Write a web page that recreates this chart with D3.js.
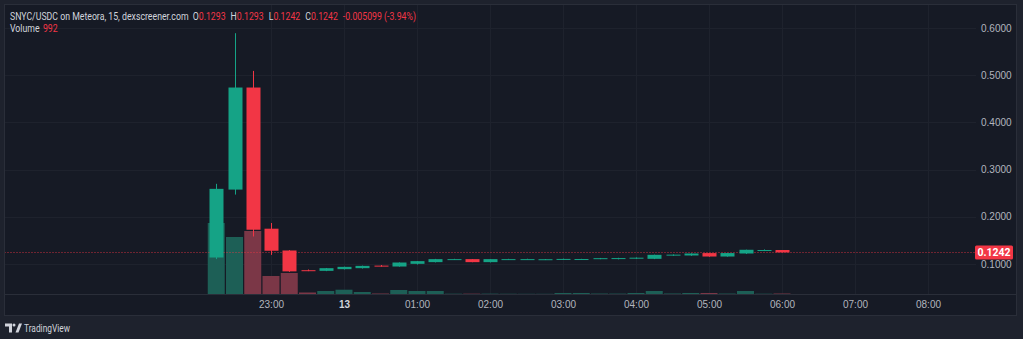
<!DOCTYPE html>
<html>
<head>
<meta charset="utf-8">
<script src="https://cdn.jsdelivr.net/npm/d3@7"></script>
<style>
  html, body { margin: 0; padding: 0; background: #1e222d; }
  svg { display: block; font-family: Roboto, "Noto Sans", sans-serif; }
  .axis text { font-size: 10px; fill: #b2b5be; }
  .axis path, .axis line { display: none; }
  .grid line { stroke: #1e222d; stroke-width: 1; shape-rendering: crispEdges; }
</style>
</head>
<body>
<svg id="chart"></svg>
<script>
// 15 minute bars, SNYC/USDC
const times = [
  "2024-06-12T22:15", "2024-06-12T22:30", "2024-06-12T22:45", "2024-06-12T23:00",
  "2024-06-12T23:15", "2024-06-12T23:30", "2024-06-12T23:45", "2024-06-13T00:00",
  "2024-06-13T00:15", "2024-06-13T00:30", "2024-06-13T00:45", "2024-06-13T01:00",
  "2024-06-13T01:15", "2024-06-13T01:30", "2024-06-13T01:45", "2024-06-13T02:00",
  "2024-06-13T02:15", "2024-06-13T02:30", "2024-06-13T02:45", "2024-06-13T03:00",
  "2024-06-13T03:15", "2024-06-13T03:30", "2024-06-13T03:45", "2024-06-13T04:00",
  "2024-06-13T04:15", "2024-06-13T04:30", "2024-06-13T04:45", "2024-06-13T05:00",
  "2024-06-13T05:15", "2024-06-13T05:30", "2024-06-13T05:45", "2024-06-13T06:00"
];
const opens  = [0.1134, 0.2574, 0.4738, 0.1745, 0.1283, 0.0865, 0.0851, 0.0887,
                0.0908, 0.0962, 0.0943, 0.1000, 0.1036, 0.1092, 0.1100, 0.1036,
                0.1095, 0.1096, 0.1094, 0.1098, 0.1097, 0.1108, 0.1110, 0.1118,
                0.1106, 0.1182, 0.1177, 0.1228, 0.1155, 0.1219, 0.1285, 0.1293];
const highs  = [0.2696, 0.5890, 0.5090, 0.1866, 0.1290, 0.0880, 0.0912, 0.0940,
                0.0962, 0.0975, 0.1030, 0.1060, 0.1105, 0.1106, 0.1102, 0.1102,
                0.1106, 0.1108, 0.1102, 0.1110, 0.1106, 0.1125, 0.1128, 0.1135,
                0.1195, 0.1200, 0.1222, 0.1230, 0.1230, 0.1300, 0.1305, 0.1293];
const lows   = [0.1100, 0.2468, 0.1580, 0.1190, 0.0830, 0.0845, 0.0845, 0.0880,
                0.0900, 0.0940, 0.0940, 0.0985, 0.1030, 0.1085, 0.1034, 0.1030,
                0.1085, 0.1090, 0.1080, 0.1088, 0.1085, 0.1098, 0.1095, 0.1105,
                0.1100, 0.1170, 0.1170, 0.1150, 0.1152, 0.1210, 0.1270, 0.1242];
const closes = [0.2590, 0.4738, 0.1723, 0.1277, 0.0840, 0.0850, 0.0908, 0.0936,
                0.0957, 0.0950, 0.1028, 0.1057, 0.1100, 0.1100, 0.1036, 0.1100,
                0.1100, 0.1100, 0.1098, 0.1104, 0.1102, 0.1120, 0.1122, 0.1130,
                0.1191, 0.1195, 0.1219, 0.1155, 0.1228, 0.1298, 0.129299, 0.1242];
const volumes = [142000, 114000, 126000, 36000, 42000, 3000, 6000, 8600,
                 4000, 1000, 8000, 6000, 6000, 600, 700, 700,
                 500, 400, 400, 2000, 2000, 900, 800, 2000,
                 6000, 1000, 2000, 2000, 900, 6000, 600, 992];
const priceTicks = [0.1, 0.2, 0.3, 0.4, 0.5, 0.6];
const lastPrice = 0.1242;

const W = 1023, H = 339;
const pane = {left: 4.5, top: 4.5, right: 1016.5, bottom: 315.5, axisX: 976, axisY: 294};
const upColor = '#15a386', downColor = '#f23645';
const upVol = '#1d5f56', downVol = '#7b3747';

const parse = d3.utcParse('%Y-%m-%dT%H:%M');
const bars = times.map((t, i) => ({
  t: parse(t), o: opens[i], h: highs[i], l: lows[i], c: closes[i], v: volumes[i]
}));

const x = d3.scaleUtc()
  .domain([parse('2024-06-12T23:00'), parse('2024-06-13T08:00')])
  .range([271, 928]);

const y = d3.scaleLinear()
  .domain([0, 0.6])
  .range([311, 28]);

const yVol = d3.scaleLinear()
  .domain([0, 150000])
  .range([pane.axisY, 219]);

const hourTicks = d3.utcHour.range(parse('2024-06-12T23:00'), parse('2024-06-13T08:01'));

const svg = d3.select('#chart')
  .attr('width', W)
  .attr('height', H);

svg.append('rect').attr('width', W).attr('height', H).attr('fill', '#1e222d');

svg.append('rect')
  .attr('x', pane.left).attr('y', pane.top)
  .attr('width', pane.right - pane.left).attr('height', pane.bottom - pane.top)
  .attr('fill', '#161a25')
  .attr('stroke', '#2a2e39');

svg.append('line')
  .attr('x1', pane.left).attr('x2', pane.right)
  .attr('y1', pane.axisY + 0.5).attr('y2', pane.axisY + 0.5)
  .attr('stroke', '#2a2e39');

svg.append('defs').append('clipPath').attr('id', 'plot')
  .append('rect')
  .attr('x', pane.left + 0.5).attr('y', pane.top + 0.5)
  .attr('width', pane.axisX - pane.left).attr('height', pane.axisY - pane.top);

// grid
const grid = svg.append('g').attr('class', 'grid').attr('clip-path', 'url(#plot)');
grid.selectAll('.hl')
    .data(priceTicks)
  .enter().append('line')
    .attr('x1', pane.left).attr('x2', pane.axisX)
    .attr('y1', d => Math.round(y(d)) + 0.5).attr('y2', d => Math.round(y(d)) + 0.5);
grid.selectAll('.vl')
    .data(hourTicks)
  .enter().append('line')
    .attr('y1', pane.top).attr('y2', pane.axisY)
    .attr('x1', d => Math.round(x(d)) + 0.5).attr('x2', d => Math.round(x(d)) + 0.5);

const plot = svg.append('g').attr('clip-path', 'url(#plot)');

// volume
plot.selectAll('.vol')
    .data(bars)
  .enter().append('rect')
    .attr('class', 'vol')
    .attr('x', d => x(d.t) - 8.5)
    .attr('width', 17)
    .attr('y', d => yVol(d.v))
    .attr('height', d => pane.axisY - yVol(d.v))
    .attr('fill', d => d.c >= d.o ? upVol : downVol);

// last price line
plot.append('line')
  .attr('x1', pane.left).attr('x2', pane.axisX)
  .attr('y1', Math.round(y(lastPrice)) + 0.5).attr('y2', Math.round(y(lastPrice)) + 0.5)
  .attr('stroke', downColor)
  .attr('stroke-opacity', 0.8)
  .attr('stroke-dasharray', '1,2');

// candles
const candle = plot.selectAll('.candle')
    .data(bars)
  .enter().append('g')
    .attr('class', 'candle');

candle.append('line')
  .attr('x1', d => Math.round(x(d.t)) + 0.5).attr('x2', d => Math.round(x(d.t)) + 0.5)
  .attr('y1', d => y(d.h)).attr('y2', d => y(d.l))
  .attr('stroke', d => d.c >= d.o ? upColor : downColor);

candle.append('rect')
  .attr('x', d => Math.round(x(d.t)) - 6.5)
  .attr('width', 14)
  .attr('y', d => y(Math.max(d.o, d.c)))
  .attr('height', d => Math.max(1, Math.abs(y(d.o) - y(d.c))))
  .attr('fill', d => d.c >= d.o ? upColor : downColor);

// price axis
const yAxis = d3.axisRight(y)
  .tickValues(priceTicks)
  .tickFormat(d3.format('.4f'))
  .tickSize(0)
  .tickPadding(5);

svg.append('g')
    .attr('class', 'y axis')
    .attr('transform', `translate(${pane.axisX},0)`)
    .call(yAxis);

// last price badge
const badge = svg.append('g')
  .attr('transform', `translate(975,${y(lastPrice)})`);
badge.append('rect')
  .attr('x', 0).attr('y', -7).attr('width', 38).attr('height', 14)
  .attr('rx', 1.5)
  .attr('fill', downColor);
badge.append('text')
  .attr('x', 19).attr('y', 3.6)
  .attr('text-anchor', 'middle')
  .attr('font-size', 10.5)
  .attr('font-weight', 'bold')
  .attr('fill', '#ffffff')
  .text(d3.format('.4f')(lastPrice));

// time axis
const xAxis = d3.axisBottom(x)
  .tickValues(hourTicks)
  .tickFormat(d => d.getUTCHours() === 0 ? d3.utcFormat('%-d')(d) : d3.utcFormat('%H:%M')(d))
  .tickSize(0)
  .tickPadding(7);

svg.append('g')
    .attr('class', 'x axis')
    .attr('transform', `translate(0,${pane.axisY})`)
    .call(xAxis)
  .selectAll('text')
    .filter(d => d.getUTCHours() === 0)
    .style('font-weight', 'bold')
    .style('fill', '#d1d4dc');

// legend
const last = bars[bars.length - 1];
const prev = bars[bars.length - 2];
const chg = last.c - prev.c;
const valColor = last.c >= last.o ? upColor : downColor;

const title = svg.append('text')
  .attr('font-size', 10.5)
  .attr('fill', '#d1d4dc');
title.append('tspan').text('SNYC/USDC on Meteora, 15, dexscreener.com');
[['O', last.o], ['H', last.h], ['L', last.l], ['C', last.c]].forEach(([k, v], i) => {
  title.append('tspan').attr('dx', i === 0 ? 5 : 6).text(k);
  title.append('tspan').attr('fill', valColor).text(d3.format('.4f')(v));
});
title.append('tspan').attr('dx', 6).attr('fill', valColor)
  .text(`${d3.format('.6f')(chg).replace('−', '-')} (${d3.format('.2f')(chg / prev.c * 100).replace('−', '-')}%)`);

const k = 382 / title.node().getComputedTextLength();
title.attr('transform', `translate(10,20) scale(${k},1)`);

const vol = svg.append('text')
  .attr('font-size', 10.5)
  .attr('fill', '#d1d4dc')
  .attr('transform', `translate(10,32) scale(${k},1)`);
vol.append('tspan').text('Volume');
vol.append('tspan').attr('dx', 4).attr('fill', valColor).text(last.v);

// TradingView mark
const tv = svg.append('g').attr('fill', '#d1d4dc');
tv.append('path').attr('d', 'M5,323.5 h7 v9 h-3 v-6 h-4 z');
tv.append('circle').attr('cx', 14).attr('cy', 325).attr('r', 1.5);
tv.append('path').attr('d', 'M15.5,332.5 l3.5,-9 h3 l-3.5,9 z');
tv.append('text')
  .attr('x', 24).attr('y', 332)
  .attr('font-size', 10.5)
  .attr('textLength', 46)
  .attr('lengthAdjust', 'spacingAndGlyphs')
  .text('TradingView');
</script>
</body>
</html>
